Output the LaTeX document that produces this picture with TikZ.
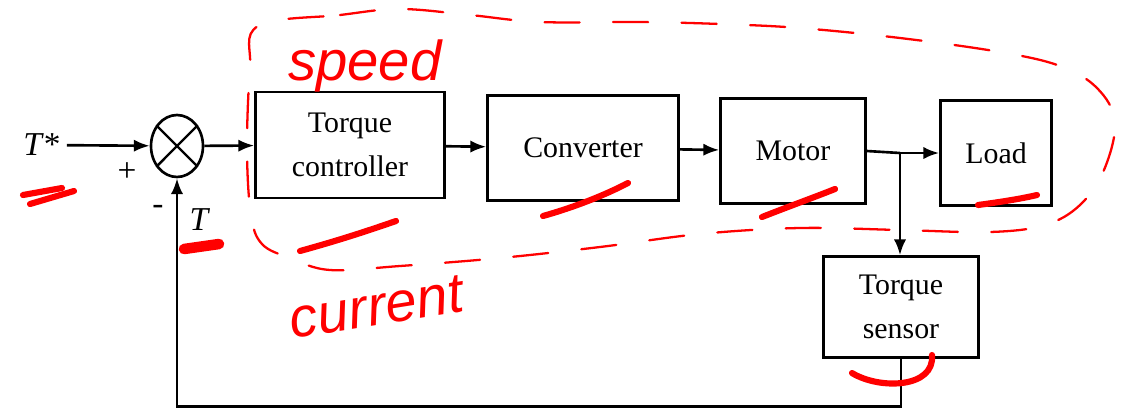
\documentclass[tikz,border=0pt]{standalone}
\usepackage{fontspec}
\setmainfont{Liberation Serif}
\newfontfamily\handfont{Liberation Sans}
\usetikzlibrary{shapes.geometric, arrows.meta, positioning, calc}

\begin{document}
\begin{tikzpicture}[
  x=0.02cm, y=-0.02cm,
  block/.style={draw, line width=1.5pt, font=\fontsize{17}{25}\selectfont, align=center, inner sep=0pt},
  sumnode/.style={draw, ellipse, line width=1.5pt, minimum width=1.04cm, minimum height=1.24cm, inner sep=0pt},
  sig/.style={font=\fontsize{19}{22}\selectfont},
  arrow/.style={-{Latex[length=9pt,width=7pt]}, line width=1.5pt},
  wire/.style={line width=1.5pt},
  pen/.style={red, line width=3.5pt, line cap=round},
  loopline/.style={red, line width=1.3pt, dash pattern=on 20pt off 19pt, line cap=round},
  hand/.style={red, font=\handfont\itshape\fontsize{32}{34}\selectfont}]
  \useasboundingbox (0,0) rectangle (1127,417);

  % forward path
  \node[sig] (tstar) at (42,145) {\textit{T}*};
  \node[sumnode] (sum) at (177,146) {};
  \draw[line width=1.4pt] (sum.45) -- (sum.225) (sum.135) -- (sum.315);
  \node[block, minimum width=3.78cm, minimum height=2.12cm] (ctrl) at (350,145) {Torque\\controller};
  \node[block, minimum width=3.82cm, minimum height=2.10cm] (conv) at (583,148) {Converter};
  \node[block, minimum width=2.90cm, minimum height=2.10cm] (motor) at (793,151) {Motor};
  \node[block, minimum width=2.22cm, minimum height=2.10cm] (load) at (996,153) {Load};
  \node[block, minimum width=3.10cm, minimum height=2.02cm] (sensor) at (901,307) {Torque\\sensor};
  \coordinate (branch) at (900,153);

  % signs at the junction
  \node[sig] (plus) at (127,172) {+};
  \node[sig] (minus) at (158,210) {-};
  \node[sig] (tfb) at (200,220) {\textit{T}};

  \draw[arrow] (tstar) -- (sum);
  \draw[arrow] (sum) -- (ctrl);
  \draw[arrow] (ctrl) -- (conv);
  \draw[arrow] (conv) -- (motor);
  \draw[wire] (motor.east) -- (branch);
  \draw[arrow] (branch) -- (load);
  \draw[arrow] (branch) -- (branch |- sensor.north);
  \draw[arrow] (sensor.south) -- ++(0,48) -| (sum.south);

  % red notes on top
  \draw[loopline] plot[smooth cycle, tension=0.6] coordinates {
    (258,26) (340,15) (400,9) (470,15) (540,22) (640,22) (720,24) (800,28)
    (900,38) (1000,52) (1060,66) (1097,88) (1115,122) (1104,170) (1080,205)
    (1045,225) (990,232) (900,230) (800,228) (700,234) (600,247) (500,258)
    (400,266) (330,270) (290,258) (262,244) (251,215) (247,150) (250,70)};
  \node[hand, anchor=west] (speed) at (282,66) {speed};
  \node[hand, anchor=west, rotate=9] (current) at (284,322) {current};
  \draw[pen] (23,195) -- (62,188);
  \draw[pen] (30,204) -- (74,191);
  \draw[pen, line width=6pt] (184,249) -- (219,244);
  \draw[pen] (300,251) .. controls (340,240) and (370,230) .. (396,221);
  \draw[pen] (543,216) .. controls (575,207) and (605,195) .. (628,183);
  \draw[pen] (762,217) .. controls (790,206) and (815,197) .. (835,189);
  \draw[pen] (978,205) .. controls (1000,202) and (1020,199) .. (1037,195);
  \draw[pen] (852,373) .. controls (880,390) and (935,388) .. (932,355);
\end{tikzpicture}
\end{document}
